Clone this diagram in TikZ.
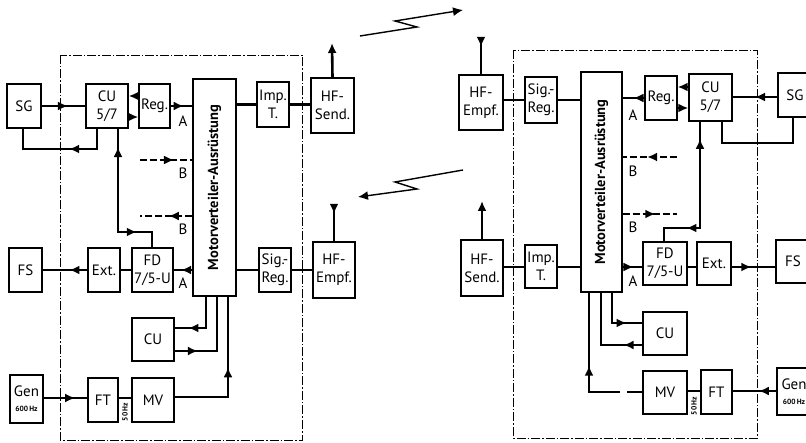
\documentclass[tikz,border=0pt]{standalone}
\usepackage{fontspec}
\setmainfont{PT Sans}
\usepackage{tikz}
\usetikzlibrary{arrows.meta, decorations.markings, calc}

\newcommand{\boxfont}{\fontsize{15}{18}\selectfont}
\newcommand{\hzfont}{\fontsize{7.5}{8}\selectfont\bfseries}

\tikzset{
  blk/.style={draw, line width=1.4pt, inner sep=0pt, align=center, font=\boxfont},
  lbl/.style={inner sep=0pt, font=\boxfont},
  conn/.style={line width=2.6pt},
  thin/.style={line width=1.4pt},
  frame/.style={line width=0.9pt, dash pattern=on 9pt off 2pt on 1.5pt off 2pt},
  tip/.style={-{Latex[length=10pt,width=9pt]}},
  fwd/.style={postaction={decorate, decoration={markings,
      mark=at position #1 with {\arrow{Latex[length=10pt,width=9pt]}}}}},
  bwd/.style={postaction={decorate, decoration={markings,
      mark=at position #1 with {\arrowreversed{Latex[length=10pt,width=9pt]}}}}},
}

\begin{document}
\begin{tikzpicture}[x=1pt, y=-1pt]
  \useasboundingbox (0,0) rectangle (806,443);
  \fill[white] (0,0) rectangle (806,443);

  % ---------------- left station ----------------
  \draw[frame] (60,55) rectangle (302,440);
  \node[blk, minimum width=34pt, minimum height=44pt] (sgL)  at (24,106)    {SG};
  \node[blk, minimum width=42pt, minimum height=44pt] (cuL)  at (107,106)   {CU\\5/7};
  \node[blk, minimum width=31pt, minimum height=44pt] (regL) at (154.5,106) {Reg.};
  \node[blk, minimum width=43pt, minimum height=217pt] (motL) at (214.5,187.5) {};
  \node[rotate=90, font=\fontsize{14.5}{16}\selectfont\bfseries] (motLt) at (motL) {Motorverteiler-Ausrüstung};
  \node[blk, minimum width=32pt, minimum height=45pt] (impL) at (273,104.5) {Imp.\\T.};
  \node[blk, minimum width=43pt, minimum height=55pt] (hfsL) at (332.5,105.5) {HF-\\Send.};
  \node[blk, minimum width=33pt, minimum height=44pt] (fsL)  at (25.5,270)  {FS};
  \node[blk, minimum width=32pt, minimum height=44pt] (extL) at (104,270)   {Ext.};
  \node[blk, minimum width=41pt, minimum height=44pt] (fdL)  at (152.5,270) {FD\\7/5-U};
  \node[blk, minimum width=32pt, minimum height=44pt] (sigL) at (275,270)   {Sig.-\\Reg.};
  \node[blk, minimum width=42pt, minimum height=56pt] (hfeL) at (334,270)   {HF-\\Empf.};
  \node[blk, minimum width=42pt, minimum height=43pt] (cu2L) at (153,339.5) {CU};
  \node[blk, minimum width=33pt, minimum height=48pt] (genL) at (26.5,399)  {Gen\\[-3pt]{\hzfont 600\,Hz}};
  \node[blk, minimum width=30pt, minimum height=44pt] (ftL)  at (103,400)   {FT};
  \node[blk, minimum width=42pt, minimum height=44pt] (mvL)  at (153,400)   {MV};
  \node[rotate=90, inner sep=0pt, font=\hzfont] (hzL) at (125,412) {50\,Hz};
  \node[lbl] (aL1) at (183,121) {A};
  \node[lbl] (aL2) at (183,283) {A};
  \node[lbl] (bL1) at (183,173) {B};
  \node[lbl] (bL2) at (183,229) {B};
  \coordinate (bLs1) at (140,160);
  \coordinate (bLs2) at (140,216);
  \coordinate (antL1) at (332,43);
  \coordinate (antL2) at (334,206);

  \draw[conn, fwd=0.6] (sgL.east) -- (cuL.west);
  \draw[conn, fwd=0.42] (97,0 |- cuL.south) -- (97,149) -- (23,149) -- (23,0 |- sgL.south);
  \draw[conn, tip] (regL.west |- 0,96) -- (cuL.east |- 0,96);
  \draw[conn, tip] (cuL.east |- 0,117) -- (regL.west |- 0,117);
  \draw[conn, fwd=0.6] (regL.east) -- (motL.west |- regL.east);
  \draw[conn, dash pattern=on 7pt off 3pt, fwd=0.65] (bLs1) -- (motL.west |- bLs1);
  \draw[conn, dash pattern=on 7pt off 3pt, fwd=0.45] (motL.west |- bLs2) -- (bLs2);
  \draw[conn] (motL.east |- impL.west) -- (impL.west);
  \draw[conn] (impL.east) -- (hfsL.west |- impL.east);
  \draw[conn, tip] (hfsL.north) -- (antL1);
  \draw[conn, bwd=0.12, fwd=0.8] (118,0 |- cuL.south) -- (118,232) -- (152,232) -- (152,0 |- fdL.north);
  \draw[conn, fwd=0.6] (motL.west |- fdL.east) -- (fdL.east);
  \draw[conn] (fdL.west) -- (extL.east);
  \draw[conn, fwd=0.4] (extL.west) -- (fsL.east);
  \draw[conn] (motL.east |- sigL.west) -- (sigL.west);
  \draw[conn] (sigL.east) -- (hfeL.west);
  \draw[conn, bwd=0.78] (hfeL.north) -- (antL2);
  \draw[conn, fwd=0.78] (206,0 |- motL.south) -- (206,328) -- (cu2L.east |- 0,328);
  \draw[conn, fwd=0.24] (cu2L.east |- 0,351) -- (217,351) -- (217,0 |- motL.south);
  \draw[conn, fwd=0.54] (mvL.east |- 0,397) -- (228,397) -- (228,0 |- motL.south);
  \draw[conn, fwd=0.72] (genL.east |- 0,398) -- (ftL.west |- 0,398);
  \draw[conn] (ftL.east |- 0,398) -- (mvL.west |- 0,398);

  % ---------------- radio links ----------------
  \draw[thin, tip] (360,36) -- (417,27) -- (395,21) -- (463,10);
  \draw[thin, tip] (463,170) -- (395,182) -- (417,189) -- (358,197);

  % ---------------- right station ----------------
  \draw[frame] (513,50) rectangle (757,438);
  \node[blk, minimum width=44pt, minimum height=55pt] (hfeR) at (481,102.5) {HF-\\Empf.};
  \node[blk, minimum width=32pt, minimum height=46pt] (sigR) at (541,100)   {Sig.-\\Reg.};
  \node[blk, minimum width=41pt, minimum height=220pt] (motR) at (601.5,182) {};
  \node[rotate=90, font=\fontsize{14.5}{16}\selectfont\bfseries] (motRt) at (motR) {Motorverteiler-Ausrüstung};
  \node[blk, minimum width=32pt, minimum height=44pt] (regR) at (661,98)    {Reg.};
  \node[blk, minimum width=43pt, minimum height=47pt] (cuR)  at (710.5,97.5) {CU\\5/7};
  \node[blk, minimum width=34pt, minimum height=44pt] (sgR)  at (795,95)    {SG};
  \node[blk, minimum width=42pt, minimum height=56pt] (hfsR) at (482,268)   {HF-\\Send.};
  \node[blk, minimum width=32pt, minimum height=43pt] (impR) at (541,266.5) {Imp.\\T.};
  \node[blk, minimum width=44pt, minimum height=43pt] (fdR)  at (665,263.5) {FD\\7/5-U};
  \node[blk, minimum width=34pt, minimum height=43pt] (extR) at (714,263.5) {Ext.};
  \node[blk, minimum width=34pt, minimum height=43pt] (fsR)  at (793,261.5) {FS};
  \node[blk, minimum width=44pt, minimum height=43pt] (cu2R) at (665,333.5) {CU};
  \node[blk, minimum width=44pt, minimum height=43pt] (mvR)  at (665,392.5) {MV};
  \node[blk, minimum width=31pt, minimum height=44pt] (ftR)  at (716.5,392) {FT};
  \node[blk, minimum width=34pt, minimum height=47pt] (genR) at (794,391.5) {Gen\\[-3pt]{\hzfont 600\,Hz}};
  \node[rotate=90, inner sep=0pt, font=\hzfont] (hzR) at (694,406) {50\,Hz};
  \node[lbl] (aR1) at (633,115) {A};
  \node[lbl] (aR2) at (633,281) {A};
  \node[lbl] (bR1) at (633,171) {B};
  \node[lbl] (bR2) at (633,227) {B};
  \coordinate (bRs1) at (677,157);
  \coordinate (bRs2) at (677,214);
  \coordinate (antR1) at (481,39);
  \coordinate (antR2) at (482,201);
  \coordinate (gapR1) at (627,392);
  \coordinate (gapR2) at (620,392);

  \draw[conn] (hfeR.east |- 0,100) -- (sigR.west |- 0,100);
  \draw[conn] (sigR.east |- 0,100) -- (motR.west |- 0,100);
  \draw[conn, bwd=0.78] (hfeR.north) -- (antR1);
  \draw[conn, fwd=0.5] (regR.west) -- (motR.east |- regR.west);
  \draw[conn, tip] (cuR.west |- 0,87) -- (regR.east |- 0,87);
  \draw[conn, tip] (regR.east |- 0,108) -- (cuR.west |- 0,108);
  \draw[conn, fwd=0.5] (sgR.west |- 0,97) -- (cuR.east |- 0,97);
  \draw[conn] (722,0 |- cuR.south) -- (722,143) -- (793,143) -- (793,0 |- sgR.south);
  \draw[conn, dash pattern=on 7pt off 3pt, fwd=0.55] (bRs1) -- (motR.east |- bRs1);
  \draw[conn, dash pattern=on 7pt off 3pt, fwd=0.6] (motR.east |- bRs2) -- (bRs2);
  \draw[conn, bwd=0.23, fwd=0.89] (664,0 |- fdR.north) -- (664,228) -- (700,228) -- (700,0 |- cuR.south);
  \draw[conn] (hfsR.east |- 0,267) -- (impR.west |- 0,267);
  \draw[conn] (impR.east |- 0,267) -- (motR.west |- 0,267);
  \draw[conn, tip] (hfsR.north) -- (antR2);
  \draw[conn, fwd=0.55] (motR.east |- 0,267) -- (fdR.west |- 0,267);
  \draw[conn] (fdR.east |- 0,267) -- (extR.west |- 0,267);
  \draw[conn, fwd=0.45] (extR.east |- 0,267) -- (fsR.west |- 0,267);
  \draw[conn, fwd=0.74] (612,0 |- motR.south) -- (612,323) -- (cu2R.west |- 0,323);
  \draw[conn, fwd=0.2] (cu2R.west |- 0,345) -- (601,345) -- (601,0 |- motR.south);
  \draw[conn] (mvR.west |- gapR1) -- (gapR1);
  \draw[conn, fwd=0.44] (gapR2) -- (589,392) -- (589,0 |- motR.south);
  \draw[conn, fwd=0.4] (genR.west |- 0,391) -- (ftR.east |- 0,391);
  \draw[conn] (ftR.west |- 0,391) -- (mvR.east |- 0,391);
\end{tikzpicture}
\end{document}
